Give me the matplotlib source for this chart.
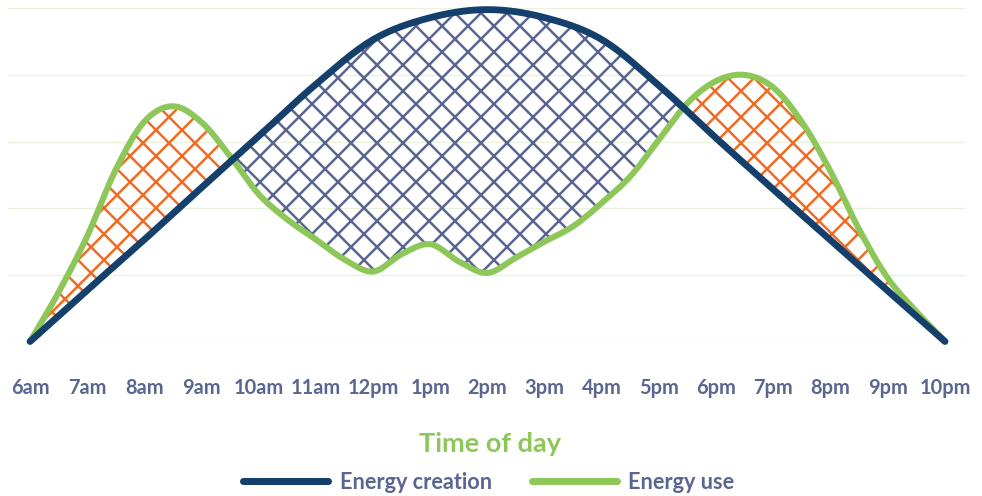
import numpy as np
import matplotlib
matplotlib.use('Agg')
import matplotlib.pyplot as plt
from matplotlib.lines import Line2D

hour_labels = ['6am', '7am', '8am', '9am', '10am', '11am', '12pm', '1pm', '2pm',
               '3pm', '4pm', '5pm', '6pm', '7pm', '8pm', '9pm', '10pm']
hours = np.arange(len(hour_labels))

# energy created, one value per hour
creation = [0, 0.77, 1.53, 2.31, 3.08, 3.86, 4.53, 4.86, 4.98, 4.86, 4.53,
            3.84, 3.05, 2.28, 1.52, 0.76, 0]

# energy used, one value per half hour
use_hours = np.arange(0, 16.5, 0.5)
use = [0, 0.74, 1.58, 2.58, 3.30, 3.53, 3.29, 2.78, 2.21, 1.83, 1.53, 1.23,
       1.05, 1.31, 1.46, 1.20, 1.03, 1.26, 1.50, 1.73, 2.08, 2.48, 3.03, 3.58,
       3.91, 4.00, 3.81, 3.29, 2.55, 1.68, 0.95, 0.45, 0]

NAVY = '#15406c'
GREEN = '#8dc759'
ORANGE = '#f26b24'
SLATE = '#5a6690'


def smooth_at(x, y, xs):
    # catmull-rom through evenly spaced points, like a smoothed excel line
    x = np.asarray(x, float)
    y = np.asarray(y, float)
    h = x[1] - x[0]
    p = np.concatenate([[2 * y[0] - y[1]], y, [2 * y[-1] - y[-2]]])
    i = np.clip(((xs - x[0]) // h).astype(int), 0, len(x) - 2)
    t = (xs - x[0]) / h - i
    p0, p1, p2, p3 = p[i], p[i + 1], p[i + 2], p[i + 3]
    return 0.5 * (2 * p1 + (-p0 + p2) * t + (2 * p0 - 5 * p1 + 4 * p2 - p3) * t ** 2
                  + (-p0 + 3 * p1 - 3 * p2 + p3) * t ** 3)


xs = np.linspace(0, 16, 1601)
made = smooth_at(hours, creation, xs)
used = smooth_at(use_hours, use, xs)

plt.rcParams['font.family'] = ['Lato', 'DejaVu Sans']
plt.rcParams['font.weight'] = 'bold'
plt.rcParams['hatch.linewidth'] = 2.3

fig = plt.figure(figsize=(982 / 78, 497 / 78), dpi=78)
ax = fig.add_axes([8 / 982, 154.5 / 497, 957 / 982, 333.2 / 497])

ax.fill_between(xs, made, used, where=made >= used, interpolate=True,
                facecolor='none', edgecolor=SLATE, hatch='x', linewidth=0)
ax.fill_between(xs, made, used, where=used > made, interpolate=True,
                facecolor='none', edgecolor=ORANGE, hatch='x', linewidth=0)

ax.plot(xs, used, color=GREEN, lw=5.6, solid_capstyle='round', clip_on=False)
ax.plot(xs, made, color=NAVY, lw=6.3, solid_capstyle='round', clip_on=False)

ax.set_xlim(-0.385, 16.35)
ax.set_ylim(0, 5)
ax.set_yticks(range(6))
ax.set_yticklabels([])
ax.grid(axis='y', color='#e8f2dd', linewidth=1.3)
ax.set_axisbelow(True)
ax.set_xticks(hours)
ax.set_xticklabels(hour_labels, color=SLATE, fontsize=18.5, fontweight='bold')
ax.tick_params(length=0, pad=33)
for s in ax.spines.values():
    s.set_visible(False)

fig.text(490 / 982, 1 - 452 / 497, 'Time of day', color=GREEN, fontsize=25,
         fontweight='bold', ha='center', va='baseline')

handles = [Line2D([], [], color=NAVY, lw=6.5, solid_capstyle='round'),
           Line2D([], [], color=GREEN, lw=6.5, solid_capstyle='round')]
leg = fig.legend(handles, ['Energy creation', 'Energy use'], loc='center',
                 bbox_to_anchor=(489 / 982, 1 - 483 / 497), ncol=2, frameon=False,
                 fontsize=20, handlelength=3.9, handletextpad=0.55,
                 columnspacing=1.85, borderpad=0)
for t in leg.get_texts():
    t.set_color(SLATE)
    t.set_fontweight('bold')

fig.savefig('out.png', dpi=78)
